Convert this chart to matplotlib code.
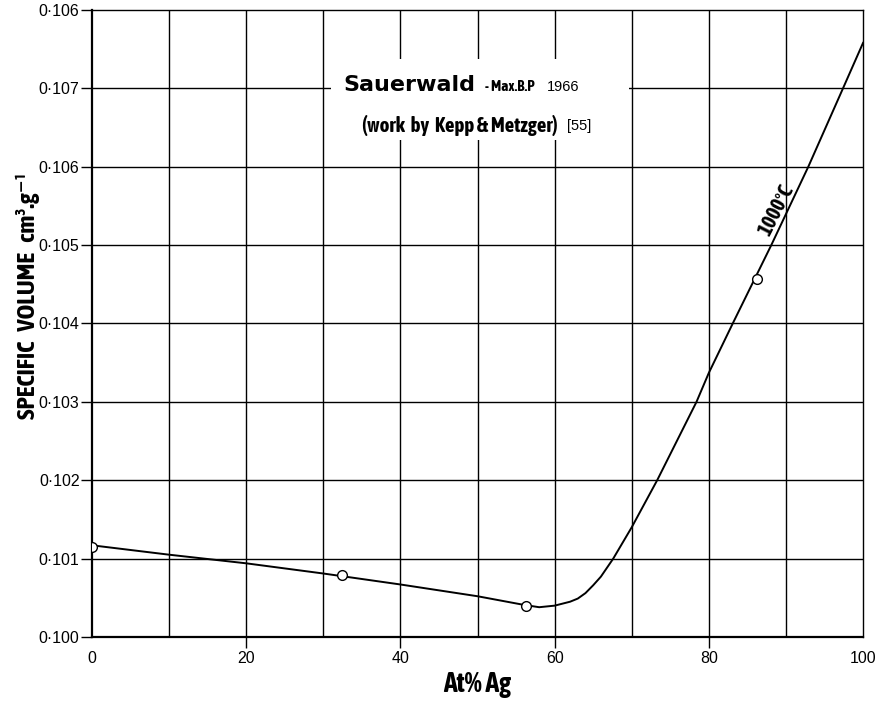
import matplotlib
matplotlib.use("Agg")
import matplotlib.pyplot as plt
from matplotlib import font_manager
from matplotlib.patches import Rectangle

# measured points (open circles)
pt_x = [0, 32.4, 56.3, 86.3]
pt_y = [0.10115, 0.10079, 0.10040, 0.10457]

# 1000 °C curve
curve_x = [0, 10, 20, 30, 40, 50, 56, 58, 60, 62, 63, 64, 65, 66, 67.6, 70,
           73.3, 78.4, 80, 83.1, 88.1, 92.9, 97.4, 100]
curve_y = [0.10117, 0.10105, 0.10094, 0.10081, 0.10067, 0.10052, 0.10041,
           0.10038, 0.10040, 0.10045, 0.10049, 0.10056, 0.10066, 0.10077,
           0.10100, 0.10140, 0.10200, 0.10300, 0.10337, 0.10400, 0.10500,
           0.10600, 0.10700, 0.10758]

y_ticks = [0.100, 0.101, 0.102, 0.103, 0.104, 0.105, 0.106, 0.107, 0.108]
y_tick_labels = ["0·100", "0·101", "0·102", "0·103", "0·104", "0·105",
                 "0·106", "0·107", "0·106"]
x_ticks = [0, 20, 40, 60, 80, 100]


def _weight(f):
    w = f.weight
    if isinstance(w, str):
        w = font_manager.weight_dict.get(w, 400)
    return int(w)


# the original lettering is a bold condensed face: look for one
narrow = None
for f in sorted(font_manager.fontManager.ttflist, key=lambda f: -_weight(f)):
    if any(k in f.name for k in ("Narrow", "Condensed")) and _weight(f) >= 600:
        narrow = f.name
        break
BOLD = [narrow, "DejaVu Sans"] if narrow else ["DejaVu Sans"]
WIDE = ["DejaVu Sans"]
THIN = ["Liberation Sans", "DejaVu Sans"]

fig = plt.figure(figsize=(8.83, 7.02), dpi=100)
ax = fig.add_axes([0.1042, 0.0926, 0.8732, 0.8932])

ax.set_xlim(0, 100)
ax.set_ylim(0.100, 0.108)

# grid every 10 at% and every 0.001
for gx in range(10, 100, 10):
    ax.axvline(gx, color="black", lw=1.0, zorder=1)
for gy in y_ticks[1:-1]:
    ax.axhline(gy, color="black", lw=1.0, zorder=1)

# white label box that blanks the grid
ax.add_patch(Rectangle((31.0, 0.10634), 38.6, 0.00103, facecolor="white",
                       edgecolor="none", zorder=2))

ax.plot(curve_x, curve_y, color="black", lw=1.4, zorder=3)
ax.plot(pt_x, pt_y, "o", mfc="white", mec="black", ms=7, mew=1.0, zorder=4)

ax.set_xticks(x_ticks)
ax.set_xticklabels([str(v) for v in x_ticks], fontsize=11.5, family=THIN)
ax.set_yticks(y_ticks)
ax.set_yticklabels(y_tick_labels, fontsize=11.5, family=THIN)
ax.tick_params(axis="y", direction="out", length=8, width=1, pad=1)
ax.tick_params(axis="x", direction="out", length=8, width=1, pad=2)
# no tick marks under the two end labels in the original
xt = ax.xaxis.get_major_ticks()
for t in (xt[0], xt[-1]):
    t.tick1line.set_visible(False)

for side, spine in ax.spines.items():
    spine.set_linewidth(1.6 if side in ("left", "bottom") else 1.0)

ax.set_xlabel("At% Ag", fontsize=20, fontweight="bold", family=BOLD,
              labelpad=4)
ax.set_ylabel("SPECIFIC   VOLUME   cm³.g⁻¹", fontsize=18, fontweight="bold",
              family=BOLD)
ax.yaxis.set_label_coords(-0.068, 0.544)

ax.text(32.6, 0.10704, "Sauerwald", fontsize=16, fontweight="bold",
        family=WIDE, va="center", zorder=5)
ax.text(51.0, 0.10702, "- Max.B.P", fontsize=11, fontweight="bold",
        family=BOLD, va="center", zorder=5)
ax.text(59.0, 0.10702, "1966", fontsize=10.5, family=THIN, va="center",
        zorder=5)
ax.text(35.0, 0.10653, "(work  by  Kepp & Metzger)", fontsize=15,
        fontweight="bold", family=BOLD, va="center", zorder=5)
ax.text(61.6, 0.10652, "[55]", fontsize=10.5, family=THIN, va="center",
        zorder=5)

ax.text(88.8, 0.10545, "1000°C", fontsize=15, fontweight="bold", family=BOLD,
        rotation=63, ha="center", va="center", zorder=5)

fig.savefig("out.png", dpi=100, facecolor="white")
